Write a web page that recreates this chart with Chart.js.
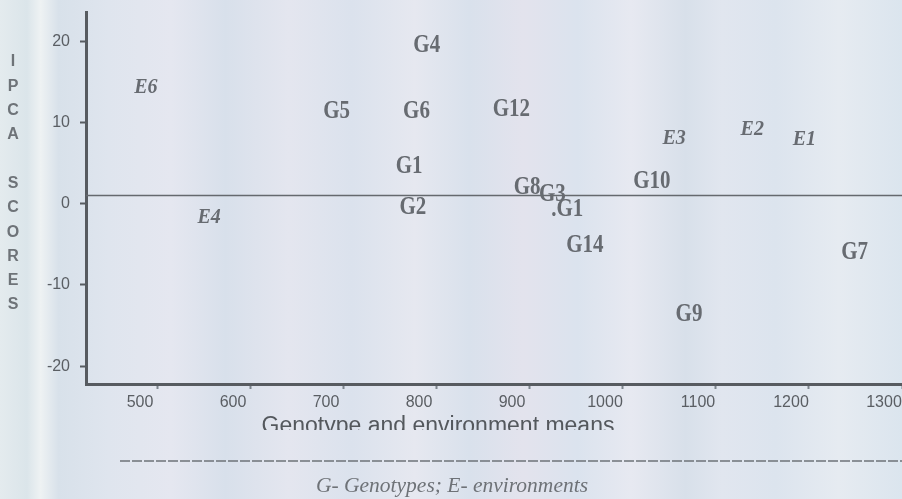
<!DOCTYPE html>
<html>
<head>
<meta charset="utf-8">
<title>IPCA scores vs means</title>
<script src="https://cdn.jsdelivr.net/npm/chart.js@4.4.1/dist/chart.umd.min.js"></script>
<style>
  html, body { margin: 0; padding: 0; background: #dde4ec; }
  canvas { display: block; }
</style>
</head>
<body>
<canvas id="ammi" width="902" height="499"></canvas>
<script>
// genotype means and first IPCA scores
const genotypes = ['G4', 'G5', 'G6', 'G12', 'G1', 'G2', 'G8', 'G3', '.G1', 'G14', 'G10', 'G9', 'G7'];
const genoMeans = [789, 692, 778, 880, 770, 774, 897, 924, 940, 959, 1031, 1071, 1249];
const genoIpca = [19.5, 11.3, 11.3, 11.6, 4.6, -0.5, 2.0, 1.1, -0.7, -5.2, 2.7, -13.7, -6.0];

// environment means and first IPCA scores
const environments = ['E6', 'E4', 'E3', 'E2', 'E1'];
const envMeans = [487, 555, 1055, 1139, 1195];
const envIpca = [14.3, -1.7, 8.1, 9.1, 7.9];

const xTicks = [500, 600, 700, 800, 900, 1000, 1100, 1200, 1300];
const yTicks = [-20, -10, 0, 10, 20];
const xRange = [422.6, 1300];
const yRange = [-22.2, 23.6];
const refLine = 1;

const yTitle = 'IPCA SCORES';
const xTitle = 'Genotype and environment means';
const footnote = 'G- Genotypes; E- environments';

const toPoints = (names, xs, ys) => names.map((n, i) => ({ x: xs[i], y: ys[i], name: n }));

// streaky scanned-paper backdrop
const backdrop = {
  id: 'backdrop',
  beforeDraw(chart) {
    const { ctx, width, height } = chart;
    const g = ctx.createLinearGradient(0, 0, width, 0);
    [[0, '#e4ebee'], [0.03, '#dbe5ea'], [0.045, '#eef2f3'], [0.065, '#d8e1ea'],
     [0.12, '#dfe5ee'], [0.19, '#e5e7f0'], [0.25, '#d8e0eb'], [0.32, '#e4e6ef'],
     [0.39, '#dbe2ed'], [0.46, '#e6e8f0'], [0.52, '#d9e1ec'], [0.58, '#e3e3ed'],
     [0.64, '#dbe3ee'], [0.7, '#e7e9f1'], [0.76, '#d8e0ea'], [0.8, '#e1e6ef'],
     [0.86, '#dce4ee'], [0.93, '#e6ebf1'], [1, '#dbe5ee']].forEach(s => g.addColorStop(s[0], s[1]));
    ctx.save();
    ctx.fillStyle = g;
    ctx.fillRect(0, 0, width, height);
    ctx.restore();
  }
};

// write each genotype / environment name at its point
const pointNames = {
  id: 'pointNames',
  afterDatasetsDraw(chart) {
    const { ctx } = chart;
    [0, 1].forEach(di => {
      const ds = chart.data.datasets[di];
      const meta = chart.getDatasetMeta(di);
      meta.data.forEach((pt, i) => {
        ctx.save();
        ctx.translate(pt.x, pt.y);
        ctx.scale(1, ds.stretch);
        ctx.font = ds.nameFont;
        ctx.fillStyle = '#676b71';
        ctx.textAlign = 'center';
        ctx.textBaseline = 'middle';
        ctx.fillText(ds.data[i].name, 0, 0);
        ctx.restore();
      });
    });
  }
};

// axis titles, rule and footnote
const captions = {
  id: 'captions',
  afterDraw(chart) {
    const { ctx } = chart;
    ctx.save();
    ctx.fillStyle = '#6e7378';
    ctx.font = 'bold 16px "Liberation Sans", Arial, sans-serif';
    ctx.textAlign = 'center';
    ctx.textBaseline = 'middle';
    [...yTitle].forEach((ch, i) => {
      if (ch !== ' ') ctx.fillText(ch, 13, 62 + i * 24.3);
    });

    ctx.save();
    ctx.beginPath();
    ctx.rect(0, 0, chart.width, 430);
    ctx.clip();
    ctx.fillStyle = '#54585d';
    ctx.font = '23px "Liberation Sans", Arial, sans-serif';
    ctx.textBaseline = 'alphabetic';
    ctx.fillText(xTitle, 438, 433);
    ctx.restore();

    ctx.strokeStyle = '#6e7378';
    ctx.lineWidth = 1.5;
    ctx.setLineDash([10, 2]);
    ctx.beginPath();
    ctx.moveTo(120, 461);
    ctx.lineTo(chart.width, 461);
    ctx.stroke();

    ctx.fillStyle = '#6e7277';
    ctx.font = 'italic 21.5px "Liberation Serif", "Times New Roman", serif';
    ctx.textBaseline = 'alphabetic';
    ctx.fillText(footnote, 452, 492);
    ctx.restore();
  }
};

const tickFont = { family: '"Liberation Sans", Arial, sans-serif', size: 16 };
const plainNumber = v => String(v);

new Chart(document.getElementById('ammi'), {
  type: 'scatter',
  data: {
    datasets: [
      {
        label: 'Genotypes',
        data: toPoints(genotypes, genoMeans, genoIpca),
        pointRadius: 0,
        nameFont: 'bold 21px "Liberation Serif", "Times New Roman", serif',
        stretch: 1.2
      },
      {
        label: 'Environments',
        data: toPoints(environments, envMeans, envIpca),
        pointRadius: 0,
        nameFont: 'italic bold 20px "Liberation Serif", "Times New Roman", serif',
        stretch: 1.1
      },
      {
        type: 'line',
        label: 'mean',
        data: [{ x: xRange[0], y: refLine }, { x: xRange[1], y: refLine }],
        borderColor: '#65696e',
        borderWidth: 1.5,
        pointRadius: 0
      }
    ]
  },
  options: {
    responsive: false,
    animation: false,
    layout: { padding: { top: 12, left: 0, right: 0, bottom: 0 } },
    plugins: { legend: { display: false }, tooltip: { enabled: false } },
    scales: {
      x: {
        type: 'linear',
        min: xRange[0],
        max: xRange[1],
        afterBuildTicks(s) { s.ticks = xTicks.map(v => ({ value: v })); },
        afterFit(s) { s.height = 115; s.paddingLeft = 0; s.paddingRight = 0; },
        grid: { drawOnChartArea: false, tickLength: 5, tickWidth: 2, tickColor: '#7d858d' },
        border: { color: '#575b60', width: 3 },
        ticks: { font: tickFont, color: '#5a5e63', labelOffset: -18, padding: 4, maxRotation: 0, autoSkip: false, callback: plainNumber }
      },
      y: {
        min: yRange[0],
        max: yRange[1],
        afterBuildTicks(s) { s.ticks = yTicks.map(v => ({ value: v })); },
        afterFit(s) { s.width = 86; s.paddingTop = 0; s.paddingBottom = 0; },
        grid: { drawOnChartArea: false, tickLength: 6, tickWidth: 2, tickColor: '#575b60' },
        border: { color: '#575b60', width: 3 },
        ticks: { font: tickFont, color: '#5a5e63', padding: 10, callback: plainNumber }
      }
    }
  },
  plugins: [backdrop, pointNames, captions]
});
</script>
</body>
</html>
